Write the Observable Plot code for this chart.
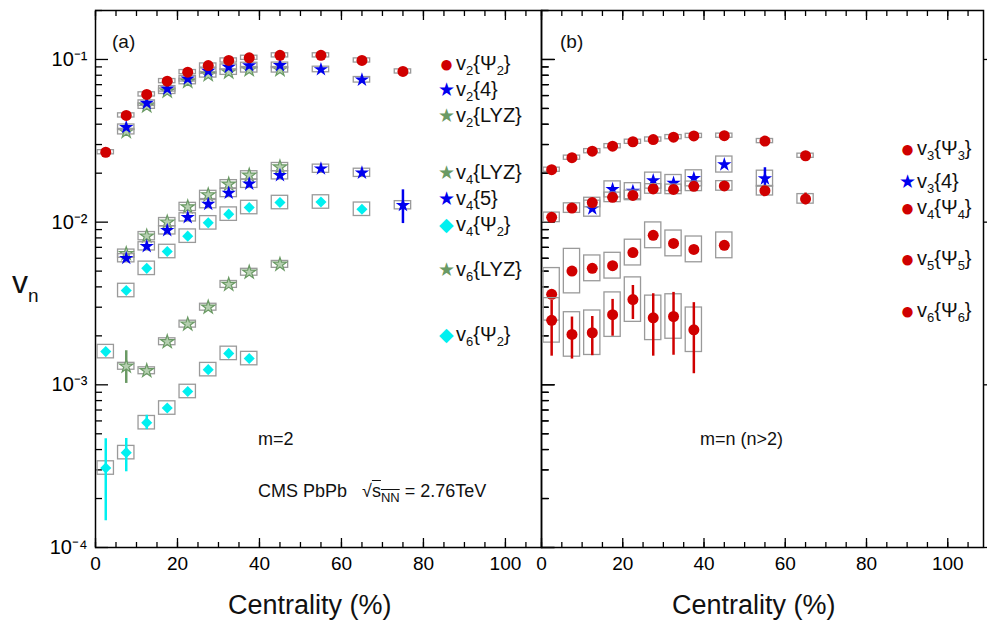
<!DOCTYPE html>
<html>
<head>
<meta charset="utf-8">
<script src="https://cdn.jsdelivr.net/npm/d3@7"></script>
<script src="https://cdn.jsdelivr.net/npm/@observablehq/plot@0.6"></script>
<style>
  body { margin: 0; background: #fff; font-family: "Liberation Sans", Arial, sans-serif; }
  #wrap { position: relative; width: 993px; height: 625px; }
  #wrap svg { position: absolute; top: 0; overflow: visible; }
  .lbl { position: absolute; font-size: 18px; color: #111; white-space: nowrap; line-height: 1; }
  .leg { font-size: 20px; }
  .sym { display: inline-block; width: 17px; font-size: 19px; text-align: center; margin-right: 1px; }
  .big { font-size: 24px; vertical-align: -2px; }
  sub { font-size: 13px; vertical-align: -5px; }
</style>
</head>
<body>
<div id="wrap"></div>
<script>
// centrality bin centres
const cent = [2.5, 7.5, 12.5, 17.5, 22.5, 27.5, 32.5, 37.5, 45, 55, 65, 75];

// panel (a): m = 2
const v2Psi2 = [0.0269, 0.0453, 0.061, 0.0736, 0.0836, 0.0918, 0.0986, 0.1024, 0.106, 0.106, 0.0986, 0.0844];
const v2c4 = [null, 0.0383, 0.0539, 0.066, 0.0761, 0.0848, 0.0897, 0.0918, 0.092, 0.0868, 0.075];
const v2LYZ = [null, 0.036, 0.0517, 0.0638, 0.0732, 0.0805, 0.0836, 0.0864, 0.0864];
const v4LYZ = [null, 0.0064, 0.0082, 0.0100, 0.0124, 0.0147, 0.0171, 0.0194, 0.0218];
const v4c5 = [null, 0.0060, 0.0071, 0.0089, 0.0107, 0.0129, 0.0151, 0.0172, 0.0194, 0.0213, 0.0201, 0.0127];
const v4c5Lo = [null, null, null, null, null, null, null, null, null, null, null, 0.0098];
const v4c5Hi = [null, null, null, null, null, null, null, null, null, null, null, 0.0158];
const v4Psi2 = [0.00160, 0.0038, 0.0052, 0.0066, 0.0082, 0.0099, 0.0112, 0.0123, 0.0132, 0.0133, 0.0120];
const v6LYZ = [null, 0.00130, 0.00122, 0.00184, 0.00236, 0.00300, 0.00414, 0.00492, 0.0055];
const v6LYZLo = [null, 0.00102];
const v6LYZHi = [null, 0.00162];
const v6Psi2 = [0.000308, 0.000383, 0.000585, 0.00072, 0.00091, 0.00124, 0.00156, 0.00145];
const v6Psi2Lo = [0.000146, 0.000292, 0.00053];
const v6Psi2Hi = [0.000466, 0.000468, 0.00065];

// panel (b): m = n (n > 2)
const v3Psi3 = [0.0210, 0.0249, 0.0273, 0.0293, 0.0312, 0.0322, 0.0333, 0.0339, 0.034, 0.0315, 0.0256];
const v3c4 = [null, null, 0.0121, 0.0159, 0.0155, 0.0180, 0.0174, 0.0186, 0.0226, 0.0185];
const v3c4Lo = [null, null, null, null, null, null, null, null, null, 0.0163];
const v3c4Hi = [null, null, null, null, null, null, null, null, null, 0.0216];
const v4Psi4 = [0.0107, 0.0122, 0.0132, 0.0142, 0.0146, 0.0160, 0.0159, 0.0166, 0.0167, 0.0156, 0.0139];
const v4Psi4Lo = [null, null, null, null, null, null, null, null, null, null, 0.0128];
const v4Psi4Hi = [null, null, null, null, null, null, null, null, null, null, 0.0151];
const v5Psi5 = [0.0036, 0.0050, 0.0052, 0.0054, 0.0065, 0.0083, 0.0074, 0.0068, 0.0072];
const v5Sys = [1.45, 1.37, 1.2, 1.2, 1.2, 1.2, 1.2, 1.2, 1.2];
const v6Psi6 = [0.00249, 0.00204, 0.00209, 0.00270, 0.00334, 0.00258, 0.00263, 0.00218];
const v6Psi6Lo = [0.00150, 0.00144, 0.00151, 0.00199, 0.00252, 0.00150, 0.00152, 0.00117];
const v6Psi6Hi = [0.00330, 0.00261, 0.00263, 0.00335, 0.00408, 0.00363, 0.00370, 0.00320];

const red = "#d00000", blue = "#0000ee", cyan = "#00f0f0", green = "#6a9a64";
const none = () => "";

function rows(vals, sys, lo, hi) {
  return vals.map((v, i) => ({
    x: cent[i], v,
    s: Array.isArray(sys) ? sys[i] : sys,
    lo: lo ? lo[i] : null, hi: hi ? hi[i] : null
  })).filter(d => d.v != null);
}

function seriesMarks(s) {
  const d = rows(s.vals, s.sys, s.lo, s.hi);
  const out = [];
  if (s.sys) out.push(Plot.rect(d, {x1: d => d.x - 2, x2: d => d.x + 2, y1: d => d.v / d.s, y2: d => d.v * d.s,
    fill: "none", stroke: "#9a9a9a", strokeWidth: 1.3}));
  const e = d.filter(r => r.lo != null);
  if (e.length) out.push(Plot.ruleX(e, {x: "x", y1: "lo", y2: "hi", stroke: s.color, strokeWidth: 2.5}));
  out.push(Plot.dot(d, {x: "x", y: "v", symbol: s.symbol, r: s.r,
    fill: s.fill ?? s.color, stroke: s.stroke ?? "none", strokeWidth: 1.2}));
  return out;
}

const seriesA = [
  {vals: v2LYZ, sys: 1.04, color: green, symbol: "star", r: 4.2, fill: "#b5cfb0", stroke: green},
  {vals: v2c4, sys: 1.04, color: blue, symbol: "star", r: 4.5},
  {vals: v2Psi2, sys: 1.03, color: red, symbol: "circle", r: 5.5},
  {vals: v4LYZ, sys: 1.06, color: green, symbol: "star", r: 4.2, fill: "#b5cfb0", stroke: green},
  {vals: v4c5, sys: 1.06, lo: v4c5Lo, hi: v4c5Hi, color: blue, symbol: "star", r: 4.5},
  {vals: v4Psi2, sys: 1.10, color: cyan, symbol: "diamond2", r: 5},
  {vals: v6LYZ, sys: 1.05, lo: v6LYZLo, hi: v6LYZHi, color: green, symbol: "star", r: 4.2, fill: "#b5cfb0", stroke: green},
  {vals: v6Psi2, sys: 1.10, lo: v6Psi2Lo, hi: v6Psi2Hi, color: cyan, symbol: "diamond2", r: 5}
];
const seriesB = [
  {vals: v3Psi3, sys: 1.03, color: red, symbol: "circle", r: 5.5},
  {vals: v3c4, sys: 1.12, lo: v3c4Lo, hi: v3c4Hi, color: blue, symbol: "star", r: 4.5},
  {vals: v4Psi4, sys: 1.07, lo: v4Psi4Lo, hi: v4Psi4Hi, color: red, symbol: "circle", r: 5.5},
  {vals: v5Psi5, sys: v5Sys, color: red, symbol: "circle", r: 5.5},
  {vals: v6Psi6, sys: 1.37, lo: v6Psi6Lo, hi: v6Psi6Hi, color: red, symbol: "circle", r: 5.5}
];

const majorY = [1e-4, 1e-3, 1e-2, 1e-1];
const minorY = d3.range(-4, 0).flatMap(e => d3.range(2, 10).map(m => m * 10 ** e)).filter(v => v <= 0.2);
const sup = {"-1": "⁻¹", "-2": "⁻²", "-3": "⁻³", "-4": "⁻⁴"};

function panel(series, opts) {
  const marks = [
    Plot.axisX({anchor: "bottom", ticks: d3.range(0, 101, 20), tickSize: -9, tickFormat: d => d,
      fontSize: 19, tickPadding: 18, strokeWidth: 1.3}),
    Plot.axisX({anchor: "bottom", ticks: d3.range(0, 106, 5), tickSize: -5, tickFormat: none, strokeWidth: 1.3}),
    Plot.axisX({anchor: "top", ticks: d3.range(0, 101, 20), tickSize: -9, tickFormat: none, strokeWidth: 1.3}),
    Plot.axisX({anchor: "top", ticks: d3.range(0, 106, 5), tickSize: -5, tickFormat: none, strokeWidth: 1.3}),
    Plot.axisY({anchor: "left", ticks: majorY, tickSize: -13, tickFormat: none, strokeWidth: 1.3}),
    Plot.axisY({anchor: "left", ticks: minorY, tickSize: -7, tickFormat: none, strokeWidth: 1.3}),
    Plot.axisY({anchor: "right", ticks: majorY, tickSize: opts.rightMajor, tickFormat: none, strokeWidth: 1.3}),
    Plot.axisY({anchor: "right", ticks: minorY, tickSize: opts.rightMinor, tickFormat: none, strokeWidth: 1.3}),
    Plot.frame({stroke: "#000", strokeWidth: 1.5})
  ];
  if (opts.yLabels) marks.push(Plot.axisY({anchor: "left", ticks: majorY, tickSize: 0, tickPadding: 8, fontSize: 20,
    tickFormat: v => "10" + sup[Math.round(Math.log10(v))]}));
  series.forEach(s => marks.push(...seriesMarks(s)));
  return Plot.plot({
    width: opts.width, height: 625,
    marginLeft: opts.ml, marginRight: opts.mr, marginTop: 10, marginBottom: 78,
    style: {fontFamily: "Liberation Sans, Arial, sans-serif", color: "#000", background: "transparent"},
    x: {domain: [0, 108.8], label: null},
    y: {type: "log", domain: [1e-4, 0.2], label: null},
    marks
  });
}

const wrap = document.getElementById("wrap");
const a = panel(seriesA, {width: 541, ml: 95, mr: 0, yLabels: true, rightMajor: 13, rightMinor: 7});
a.style.left = "0px";
const b = panel(seriesB, {width: 452, ml: 0, mr: 10, yLabels: false, rightMajor: 3, rightMinor: 0});
b.style.left = "541px";
wrap.append(a, b);

function label(html, x, y, size, cls) {
  const el = document.createElement("div");
  el.className = "lbl" + (cls ? " " + cls : "");
  el.style.left = x + "px"; el.style.top = y + "px";
  if (size) el.style.fontSize = size + "px";
  el.innerHTML = html;
  wrap.append(el);
}
const C = (c, ch) => `<span class="sym${ch === "●" ? " big" : ""}" style="color:${c}">${ch}</span>`;

label("(a)", 112, 32, 19);
label("(b)", 560, 32, 19);
label("m=2", 258, 430);
label("m=n (n&gt;2)", 700, 430);
label("CMS PbPb &nbsp;&nbsp;√<span style='text-decoration:overline'>s<sub>NN</sub></span> = 2.76TeV", 258, 482);
label("Centrality (%)", 228, 592, 27);
label("Centrality (%)", 672, 592, 27);
label("v<sub style='font-size:19px;vertical-align:-9px'>n</sub>", 12, 266, 32);

const legA = [
  [red, "●", "v<sub>2</sub>{Ψ<sub>2</sub>}", 52],
  [blue, "★", "v<sub>2</sub>{4}", 79],
  [green, "★", "v<sub>2</sub>{LYZ}", 105],
  [green, "★", "v<sub>4</sub>{LYZ}", 162],
  [blue, "★", "v<sub>4</sub>{5}", 188],
  [cyan, "◆", "v<sub>4</sub>{Ψ<sub>2</sub>}", 214],
  [green, "★", "v<sub>6</sub>{LYZ}", 259],
  [cyan, "◆", "v<sub>6</sub>{Ψ<sub>2</sub>}", 324]
];
legA.forEach(([c, ch, t, y]) => label(C(c, ch) + t, 438, y, null, "leg"));
const legB = [
  [red, "●", "v<sub>3</sub>{Ψ<sub>3</sub>}", 137],
  [blue, "★", "v<sub>3</sub>{4}", 171],
  [red, "●", "v<sub>4</sub>{Ψ<sub>4</sub>}", 196],
  [red, "●", "v<sub>5</sub>{Ψ<sub>5</sub>}", 247],
  [red, "●", "v<sub>6</sub>{Ψ<sub>6</sub>}", 299]
];
legB.forEach(([c, ch, t, y]) => label(C(c, ch) + t, 899, y, null, "leg"));
</script>
</body>
</html>
